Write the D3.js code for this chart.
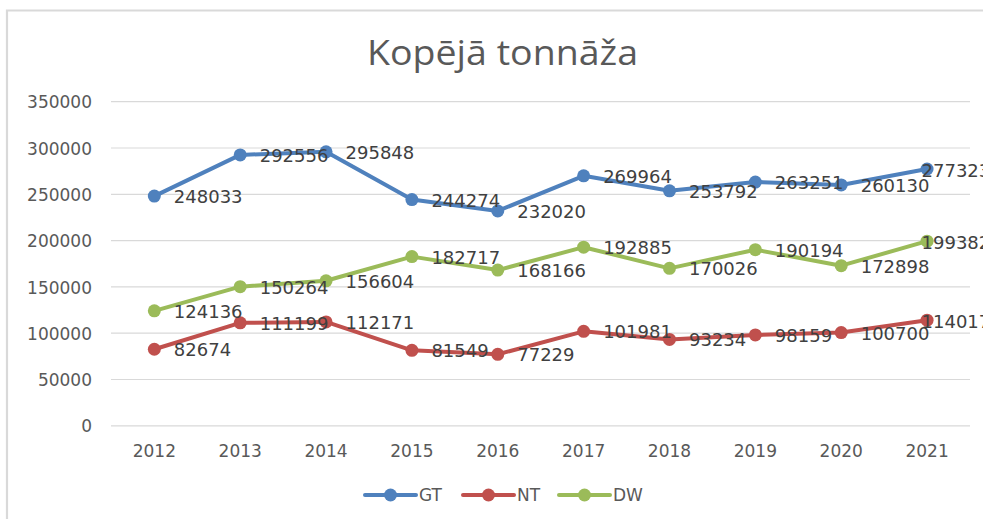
<!DOCTYPE html>
<html><head><meta charset="utf-8">
<script src="https://cdn.jsdelivr.net/npm/d3@7"></script>
<style>html,body{margin:0;padding:0;background:#fff;}svg{display:block;}</style>
</head><body>
<svg id="c" width="983" height="519"></svg>
<script>
const title = "Kopējā tonnāža";
const years = ["2012","2013","2014","2015","2016","2017","2018","2019","2020","2021"];
const seriesNames = ["GT","NT","DW"];
const seriesColors = ["#4F81BD","#C0504D","#9BBB59"];
const gtValues = [248033,292556,295848,244274,232020,269964,253792,263251,260130,277323];
const ntValues = [82674,111199,112171,81549,77229,101981,93234,98159,100700,114017];
const dwValues = [124136,150264,156604,182717,168166,192885,170026,190194,172898,199382];
const yTicks = [0,50000,100000,150000,200000,250000,300000,350000];

const series = [gtValues, ntValues, dwValues].map((v,i)=>({name:seriesNames[i], color:seriesColors[i], values:v}));

const svg = d3.select("#c");
// chart border
svg.append("path").attr("d","M7,519 V10.5 H983").attr("fill","none").attr("stroke","#d9d9d9").attr("stroke-width",2.2);

svg.append("text").attr("x",502.5).attr("y",65).attr("text-anchor","middle")
  .attr("font-family","Open Sans").attr("font-size",34).attr("fill","#595959")
  .attr("textLength",271).attr("lengthAdjust","spacingAndGlyphs").text(title);

const x = d3.scaleBand().domain(years).range([111.4,970]);
const y = d3.scaleLinear().domain([0,350000]).range([425.8,101.7]);
const cx = d => x(d)+x.bandwidth()/2;

// gridlines
svg.append("g").selectAll("line").data(yTicks).join("line")
  .attr("x1",111).attr("x2",970).attr("y1",d=>y(d)).attr("y2",d=>y(d))
  .attr("stroke","#d9d9d9").attr("stroke-width",1.2);

// y axis labels
const yAxis = d3.axisLeft(y).tickValues(yTicks).tickSize(0).tickPadding(0).tickFormat(d3.format("d"));
const ya = svg.append("g").attr("transform","translate(92,0)").call(yAxis);
ya.select(".domain").remove();
ya.selectAll("text").attr("font-family","DejaVu Sans").attr("font-size",17).attr("fill","#595959").attr("dy","0.36em");

// x axis labels
const xAxis = d3.axisBottom(x).tickSize(0).tickPadding(0);
const xa = svg.append("g").attr("transform","translate(0,445)").call(xAxis);
xa.select(".domain").remove();
xa.selectAll("text").attr("font-family","DejaVu Sans").attr("font-size",17).attr("fill","#595959").attr("dy","0.71em");

const line = d3.line().x((d,i)=>cx(years[i])).y(d=>y(d));
const gS = svg.append("g");
series.forEach(s=>{
  gS.append("path").attr("d",line(s.values)).attr("fill","none").attr("stroke",s.color)
    .attr("stroke-width",4).attr("stroke-linejoin","round").attr("stroke-linecap","round");
  gS.append("g").selectAll("circle").data(s.values).join("circle")
    .attr("cx",(d,i)=>cx(years[i])).attr("cy",d=>y(d)).attr("r",6.5).attr("fill",s.color);
});
const gL = svg.append("g");
const last = years.length-1;
series.forEach(s=>{
  gL.append("g").selectAll("text").data(s.values).join("text")
    .attr("x",(d,i)=>cx(years[i]) + (i===last ? -5.5 : 19.5))
    .attr("y",(d,i)=>y(d) + (i===last ? 8 : 7))
    .attr("font-family","DejaVu Sans").attr("font-size",18).attr("fill","#404040")
    .text(d=>d);
});

// legend
const legendX = [365,463,559];
const lg = svg.append("g");
series.forEach((s,i)=>{
  const lx = legendX[i];
  lg.append("line").attr("x1",lx).attr("x2",lx+51).attr("y1",495).attr("y2",495)
    .attr("stroke",s.color).attr("stroke-width",4).attr("stroke-linecap","round");
  lg.append("circle").attr("cx",lx+25.5).attr("cy",495).attr("r",6.5).attr("fill",s.color);
  lg.append("text").attr("x",lx+54).attr("y",495).attr("dy","0.36em")
    .attr("font-family","DejaVu Sans").attr("font-size",17).attr("fill","#595959").text(s.name);
});
</script>
</body></html>
